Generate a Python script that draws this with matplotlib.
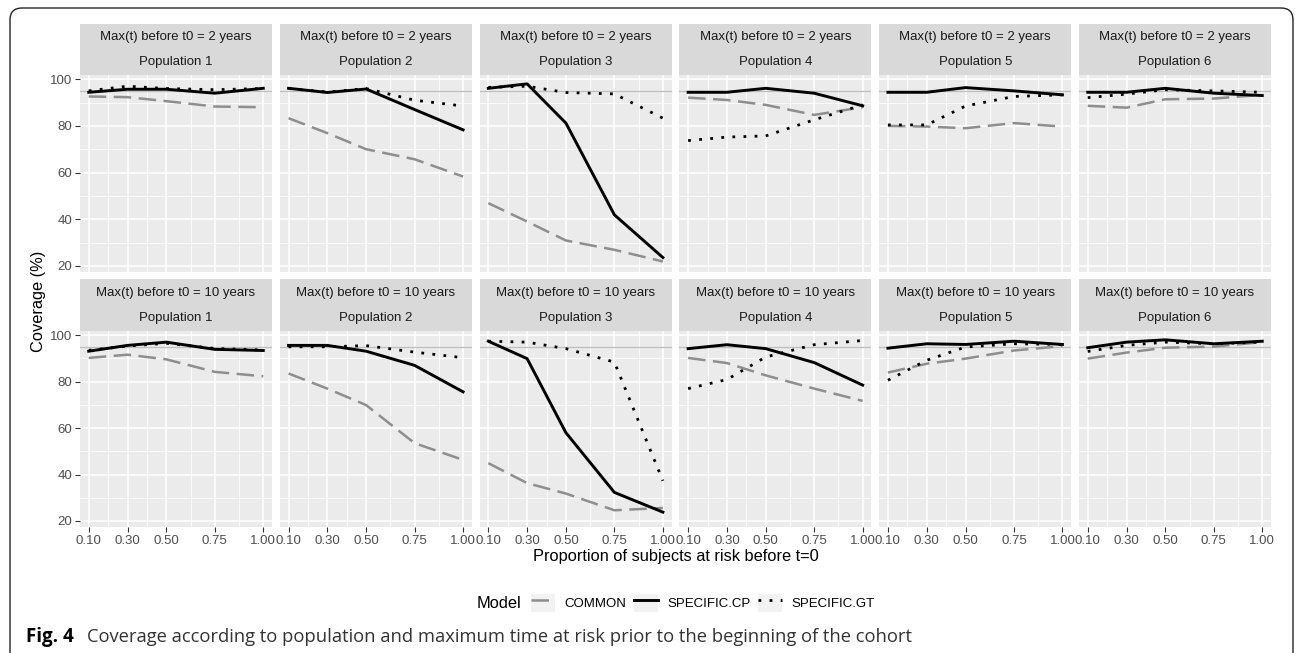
import numpy as np
import matplotlib
matplotlib.use("Agg")
import matplotlib.pyplot as plt
from matplotlib.lines import Line2D
from matplotlib.patches import Rectangle, FancyBboxPatch
from matplotlib.legend_handler import HandlerLine2D

# proportion of subjects at risk before t=0
x_prop = [0.10, 0.30, 0.50, 0.75, 1.00]
x_labels = ["0.10", "0.30", "0.50", "0.75", "1.00"]
populations = ["Population 1", "Population 2", "Population 3",
               "Population 4", "Population 5", "Population 6"]
row_titles = ["Max(t) before t0 = 2 years", "Max(t) before t0 = 10 years"]

# coverage (%) - max(t) before t0 = 2 years, one list per population
common_2y = [[92.6, 92.3, 90.6, 88.3, 88.0],
             [83.3, 76.9, 70.0, 65.7, 58.3],
             [46.9, 39.0, 30.9, 26.9, 21.9],
             [92.1, 91.1, 89.0, 84.7, 88.0],
             [80.0, 79.7, 79.0, 81.2, 79.7],
             [88.6, 87.8, 91.4, 91.7, 93.3]]
cp_2y = [[94.4, 95.7, 95.7, 94.0, 96.1],
         [96.1, 94.3, 95.8, 87.0, 78.3],
         [96.1, 98.0, 81.2, 41.9, 23.6],
         [94.4, 94.4, 96.1, 94.0, 88.6],
         [94.4, 94.4, 96.4, 95.0, 93.3],
         [94.4, 94.4, 96.1, 94.0, 93.0]]
gt_2y = [[95.0, 97.0, 96.0, 95.5, 96.0],
         [96.0, 94.5, 96.0, 91.0, 88.5],
         [96.5, 97.0, 94.3, 93.7, 83.3],
         [73.7, 75.2, 75.7, 82.6, 89.0],
         [80.4, 80.4, 88.5, 92.6, 93.3],
         [92.1, 93.6, 95.5, 95.0, 94.4]]

# coverage (%) - max(t) before t0 = 10 years
common_10y = [[90.2, 91.6, 89.6, 84.2, 82.3],
              [83.5, 77.0, 69.9, 53.5, 46.3],
              [44.9, 36.3, 31.8, 24.6, 25.6],
              [90.2, 88.0, 82.7, 77.0, 71.7],
              [83.9, 87.7, 89.9, 93.4, 95.3],
              [89.9, 92.5, 94.6, 95.1, 97.0]]
cp_10y = [[93.1, 95.6, 97.0, 93.9, 93.4],
          [95.6, 95.6, 93.1, 87.0, 75.6],
          [97.4, 89.9, 58.0, 32.3, 23.8],
          [94.2, 95.9, 94.2, 88.2, 78.5],
          [94.4, 96.3, 96.0, 97.4, 96.0],
          [94.6, 97.0, 98.0, 96.3, 97.4]]
gt_10y = [[93.5, 95.3, 96.5, 94.3, 93.6],
          [95.0, 95.0, 95.5, 92.7, 90.3],
          [97.4, 97.0, 94.2, 88.4, 37.3],
          [77.0, 80.9, 90.6, 95.9, 97.7],
          [80.6, 89.2, 94.9, 96.3, 96.0],
          [93.0, 95.6, 97.0, 96.3, 97.0]]

nominal = 95

W, H = 1295, 653
FONT = ["Liberation Sans", "DejaVu Sans"]
plt.rcParams['font.family'] = FONT

# line styles for each model
styles = {
    "COMMON": dict(color="#8E8E8E", lw=1.8, linestyle=(0, (7, 3))),
    "SPECIFIC.CP": dict(color="black", lw=2.1, linestyle="solid"),
    "SPECIFIC.GT": dict(color="black", lw=2.0, linestyle=(0, (1, 3))),
}


def px_axes(fig, x0, y0, x1, y1):
    # axes placed with pixel coordinates (top-left origin)
    return fig.add_axes([x0 / W, 1 - y1 / H, (x1 - x0) / W, (y1 - y0) / H])


fig = plt.figure(figsize=(W / 100, H / 100), dpi=100)

# journal frame round the figure
frame = FancyBboxPatch((10, -30), 1283, H - 8 + 30,
                       boxstyle="round,pad=0,rounding_size=12",
                       transform=None, facecolor="none",
                       edgecolor="#222222", lw=1.0)
fig.add_artist(frame)

rows = [(common_2y, cp_2y, gt_2y), (common_10y, cp_10y, gt_10y)]
row_px = [(24, 75, 272), (279, 331, 527)]  # strip top, panel top, panel bottom

for r, (common, cp, gt) in enumerate(rows):
    s_top, p_top, p_bot = row_px[r]
    for c in range(6):
        x0 = 80 + c * 199.8
        x1 = x0 + 192
        ax = px_axes(fig, x0, p_top, x1, p_bot)
        ax.set_facecolor("#EBEBEB")
        ax.axhline(nominal, color="#BEBEBE", lw=0.9, zorder=1)
        ax.plot(x_prop, common[c], **styles["COMMON"], zorder=2)
        ax.plot(x_prop, cp[c], **styles["SPECIFIC.CP"], zorder=3)
        ax.plot(x_prop, gt[c], **styles["SPECIFIC.GT"], zorder=4)
        ax.set_xlim(0.055, 1.045)
        ax.set_ylim(17.4, 101.8)
        ax.set_xticks(x_prop)
        ax.set_xticks([0.2, 0.4, 0.625, 0.875], minor=True)
        ax.set_yticks([20, 40, 60, 80, 100])
        ax.set_yticks([30, 50, 70, 90], minor=True)
        ax.grid(which="major", color="white", lw=1.1)
        ax.grid(which="minor", color="white", lw=0.55)
        ax.set_axisbelow(True)
        for sp in ax.spines.values():
            sp.set_visible(False)
        ax.tick_params(which="minor", length=0)
        ax.tick_params(which="major", length=3.5, width=0.8, color="#333333",
                       labelcolor="#4D4D4D", labelsize=9.5, pad=2)
        if r == 1:
            ax.set_xticklabels(x_labels)
        else:
            ax.tick_params(axis="x", length=0, labelbottom=False)
        if c != 0:
            ax.tick_params(axis="y", length=0, labelleft=False)

        # facet strip: two stacked labels
        st = px_axes(fig, x0, s_top, x1, p_top)
        st.set_facecolor("#D9D9D9")
        st.set_xticks([])
        st.set_yticks([])
        for sp in st.spines.values():
            sp.set_visible(False)
        st.text(0.5, 0.74, row_titles[r], ha="center", va="center",
                fontsize=9.5, color="#1A1A1A", transform=st.transAxes)
        st.text(0.5, 0.25, populations[c], ha="center", va="center",
                fontsize=9.5, color="#1A1A1A", transform=st.transAxes)

fig.text(676 / W, 1 - 557 / H, "Proportion of subjects at risk before t=0",
         ha="center", va="center", fontsize=11.8, color="black")
fig.text(38 / W, 1 - 301 / H, "Coverage (%)", rotation=90,
         ha="center", va="center", fontsize=11.8, color="black")


class KeyHandler(HandlerLine2D):
    # legend key with ggplot-like grey square behind the line
    def create_artists(self, legend, orig_handle, xdescent, ydescent,
                       width, height, fontsize, trans):
        arts = super().create_artists(legend, orig_handle, xdescent, ydescent,
                                      width, height, fontsize, trans)
        bg = Rectangle((-xdescent, -ydescent), width, height,
                       facecolor="#F2F2F2", edgecolor="none", transform=trans)
        return [bg] + list(arts)


handles = [Line2D([], [], **styles[k]) for k in styles]
leg = fig.legend(handles, list(styles.keys()), ncol=3, loc="center",
                 bbox_to_anchor=(703 / W, 1 - 603 / H), frameon=False,
                 fontsize=9.5, handlelength=1.8, handleheight=1.8,
                 handletextpad=0.7, columnspacing=0.6,
                 handler_map={Line2D: KeyHandler()})
fig.text(477 / W, 1 - 603 / H, "Model", ha="left", va="center",
         fontsize=11.8, color="black")

# figure caption
fig.text(26 / W, 1 - 637 / H, "Fig. 4", ha="left", va="center",
         fontsize=13.5, fontweight="bold", family=["Open Sans", "DejaVu Sans"])
fig.text(87 / W, 1 - 637 / H,
         "Coverage according to population and maximum time at risk prior to the beginning of the cohort",
         ha="left", va="center", fontsize=13.2, color="#333333",
         family=["Open Sans", "DejaVu Sans"])

fig.savefig("out.png", dpi=100)
